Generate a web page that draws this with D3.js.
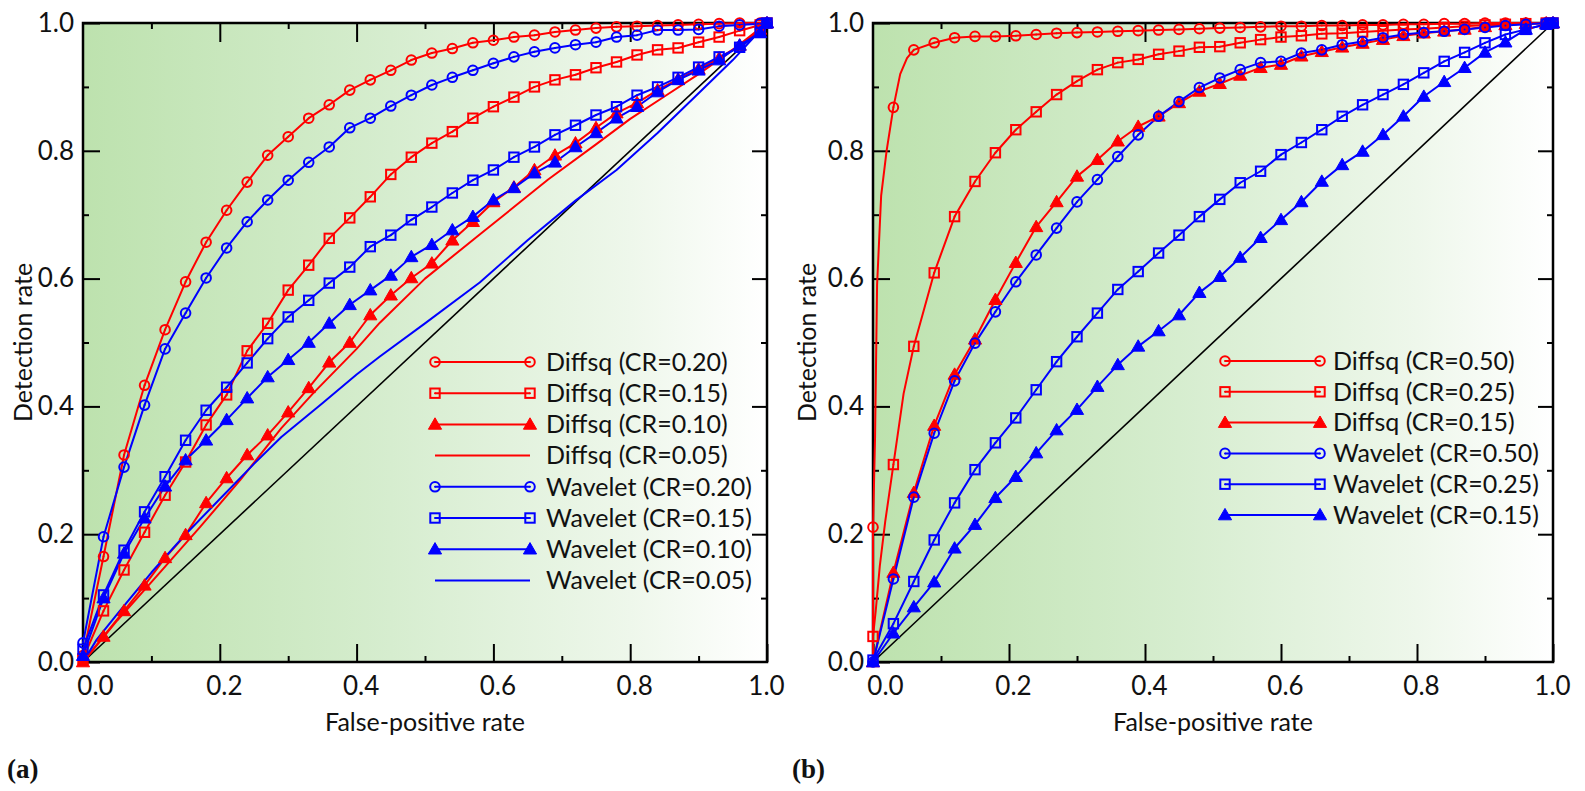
<!DOCTYPE html>
<html>
<head>
<meta charset="utf-8">
<script src="https://cdn.jsdelivr.net/npm/d3@7"></script>
<style>
body { margin: 0; background: #fff; }
text { font-family: Lato, "Open Sans", sans-serif; fill: #111; }
</style>
</head>
<body>
<svg id="chart" width="1585" height="791"></svg>
<script>

// false-positive rates where the markers sit (same for every marked curve)
var fprGrid = [0, 0.03, 0.06, 0.09, 0.12, 0.15, 0.18, 0.21, 0.24, 0.27, 0.30, 0.33, 0.36, 0.39, 0.42, 0.45, 0.48,
  0.51, 0.54, 0.57, 0.60, 0.63, 0.66, 0.69, 0.72, 0.75, 0.78, 0.81, 0.84, 0.87, 0.90, 0.93, 0.96, 0.99, 1.0];

// panel (a)
var tprDiffsqA20 = [0.01, 0.165, 0.324, 0.433, 0.52, 0.595, 0.657, 0.707, 0.751, 0.793, 0.822, 0.851, 0.872, 0.895, 0.911, 0.926, 0.942,
  0.953, 0.96, 0.969, 0.973, 0.978, 0.981, 0.986, 0.989, 0.992, 0.994, 0.995, 0.996, 0.997, 0.998, 0.999, 1.0, 1.0, 1.0];
var tprDiffsqA15 = [0.005, 0.08, 0.144, 0.203, 0.261, 0.313, 0.371, 0.418, 0.487, 0.53, 0.582, 0.621, 0.663, 0.695, 0.728, 0.763, 0.79,
  0.812, 0.83, 0.851, 0.869, 0.884, 0.9, 0.911, 0.919, 0.93, 0.939, 0.95, 0.958, 0.961, 0.97, 0.978, 0.988, 0.997, 1.0];
var tprDiffsqA10 = [0.0, 0.04, 0.08, 0.12, 0.163, 0.199, 0.249, 0.288, 0.324, 0.355, 0.391, 0.429, 0.469, 0.50, 0.543, 0.574, 0.601,
  0.624, 0.66, 0.689, 0.72, 0.743, 0.77, 0.793, 0.812, 0.836, 0.859, 0.875, 0.895, 0.912, 0.928, 0.945, 0.965, 0.99, 1.0];
var tprWaveletA20 = [0.03, 0.196, 0.305, 0.402, 0.49, 0.546, 0.601, 0.648, 0.689, 0.723, 0.754, 0.782, 0.806, 0.836, 0.851, 0.87, 0.887,
  0.903, 0.915, 0.926, 0.937, 0.947, 0.955, 0.961, 0.966, 0.97, 0.978, 0.981, 0.989, 0.989, 0.99, 0.995, 0.997, 0.999, 1.0];
var tprWaveletA15 = [0.02, 0.105, 0.175, 0.235, 0.29, 0.347, 0.394, 0.43, 0.468, 0.506, 0.54, 0.566, 0.593, 0.618, 0.65, 0.668, 0.692,
  0.712, 0.734, 0.754, 0.77, 0.79, 0.806, 0.825, 0.84, 0.856, 0.869, 0.887, 0.9, 0.915, 0.931, 0.947, 0.962, 0.985, 1.0];
var tprWaveletA10 = [0.01, 0.10, 0.17, 0.225, 0.275, 0.316, 0.347, 0.379, 0.413, 0.446, 0.473, 0.5, 0.53, 0.559, 0.582, 0.605, 0.634,
  0.653, 0.676, 0.697, 0.723, 0.742, 0.765, 0.782, 0.806, 0.828, 0.851, 0.869, 0.892, 0.911, 0.926, 0.942, 0.965, 0.985, 1.0];
// the CR=0.05 curves have no markers
var lineDiffsqA05 = [[0, 0], [0.05, 0.065], [0.1, 0.125], [0.171, 0.211], [0.23, 0.285], [0.29, 0.366], [0.336, 0.42],
  [0.4, 0.49], [0.434, 0.531], [0.5, 0.6], [0.58, 0.669], [0.68, 0.755], [0.75, 0.81], [0.8, 0.85],
  [0.85, 0.885], [0.9, 0.92], [0.95, 0.958], [1, 1]];
var lineWaveletA05 = [[0, 0], [0.02, 0.035], [0.05, 0.075], [0.1, 0.14], [0.15, 0.2], [0.2, 0.255], [0.25, 0.31], [0.29, 0.352],
  [0.35, 0.405], [0.4, 0.45], [0.434, 0.478], [0.5, 0.53], [0.58, 0.594], [0.65, 0.66], [0.72, 0.722], [0.78, 0.77],
  [0.84, 0.828], [0.9, 0.89], [0.95, 0.942], [1, 1]];

// panel (b)
var tprDiffsqB50 = [0.211, 0.868, 0.958, 0.969, 0.977, 0.979, 0.979, 0.98, 0.982, 0.984, 0.985, 0.986, 0.987, 0.988, 0.989, 0.99, 0.991,
  0.992, 0.993, 0.994, 0.995, 0.995, 0.996, 0.996, 0.997, 0.997, 0.998, 0.998, 0.999, 0.999, 1.0, 1.0, 1.0, 1.0, 1.0];
var stepsDiffsqB50 = [[0, 0], [0.003, 0.35], [0.006, 0.59], [0.012, 0.73], [0.02, 0.8], [0.04, 0.92], [0.05, 0.945]];
var tprDiffsqB25 = [0.04, 0.309, 0.494, 0.609, 0.697, 0.752, 0.797, 0.833, 0.861, 0.888, 0.909, 0.927, 0.938, 0.943, 0.951, 0.956, 0.962,
  0.963, 0.969, 0.974, 0.978, 0.98, 0.983, 0.984, 0.986, 0.988, 0.99, 0.991, 0.993, 0.995, 0.997, 0.998, 0.999, 1.0, 1.0];
var stepsDiffsqB25 = [[0, 0], [0.004, 0.08], [0.01, 0.15], [0.018, 0.22], [0.045, 0.42]];
var tprDiffsqB15 = [0.0, 0.14, 0.265, 0.37, 0.45, 0.505, 0.567, 0.625, 0.681, 0.72, 0.76, 0.786, 0.815, 0.838, 0.854, 0.875, 0.893,
  0.905, 0.918, 0.93, 0.935, 0.948, 0.955, 0.962, 0.968, 0.974, 0.98, 0.984, 0.987, 0.99, 0.994, 0.997, 0.999, 1.0, 1.0];
var tprWaveletB50 = [0.0, 0.13, 0.258, 0.358, 0.44, 0.499, 0.548, 0.595, 0.637, 0.679, 0.72, 0.755, 0.791, 0.825, 0.854, 0.877, 0.899,
  0.914, 0.927, 0.938, 0.94, 0.953, 0.958, 0.966, 0.971, 0.977, 0.982, 0.985, 0.987, 0.99, 0.993, 0.996, 0.998, 1.0, 1.0];
var tprWaveletB25 = [0.003, 0.06, 0.126, 0.191, 0.249, 0.301, 0.343, 0.382, 0.426, 0.47, 0.509, 0.546, 0.583, 0.611, 0.64, 0.668, 0.697,
  0.724, 0.75, 0.768, 0.794, 0.813, 0.833, 0.854, 0.872, 0.888, 0.904, 0.922, 0.94, 0.954, 0.969, 0.982, 0.99, 0.998, 1.0];
var tprWaveletB15 = [0.0, 0.045, 0.086, 0.125, 0.178, 0.215, 0.257, 0.29, 0.327, 0.363, 0.395, 0.431, 0.465, 0.494, 0.518, 0.543, 0.578,
  0.603, 0.633, 0.664, 0.692, 0.72, 0.752, 0.778, 0.799, 0.825, 0.854, 0.885, 0.908, 0.93, 0.954, 0.97, 0.99, 0.998, 1.0];

var diagonal = [[0, 0], [1, 1]];

var ticksMajor = [0, 0.2, 0.4, 0.6, 0.8, 1.0];
var ticksMinor = [0.1, 0.3, 0.5, 0.7, 0.9];
var tickLabels = ["0.0", "0.2", "0.4", "0.6", "0.8", "1.0"];

var legendLabelsA = ["Diffsq (CR=0.20)", "Diffsq (CR=0.15)", "Diffsq (CR=0.10)", "Diffsq (CR=0.05)",
  "Wavelet (CR=0.20)", "Wavelet (CR=0.15)", "Wavelet (CR=0.10)", "Wavelet (CR=0.05)"];
var legendLabelsB = ["Diffsq (CR=0.50)", "Diffsq (CR=0.25)", "Diffsq (CR=0.15)",
  "Wavelet (CR=0.50)", "Wavelet (CR=0.25)", "Wavelet (CR=0.15)"];

var RED = "#ff0000", BLUE = "#0000ff";

var svg = d3.select("#chart");
var defs = svg.append("defs");

function markedPoints(tpr, steps){
  var pts = fprGrid.map(function(x, i){ return [x, tpr[i]]; });
  if (steps) pts = pts.concat(steps);
  pts.sort(function(a, b){ return a[0] - b[0] || a[1] - b[1]; });
  return pts;
}

function drawMarker(g, type, color, cx, cy){
  if (type == "circle"){
    g.append("circle").attr("cx", cx).attr("cy", cy).attr("r", 4.8)
      .attr("fill", "none").attr("stroke", color).attr("stroke-width", 2);
    g.append("circle").attr("cx", cx).attr("cy", cy).attr("r", 1).attr("fill", color);
  }
  else if (type == "square"){
    g.append("rect").attr("x", cx - 4.7).attr("y", cy - 4.7).attr("width", 9.4).attr("height", 9.4)
      .attr("fill", "none").attr("stroke", color).attr("stroke-width", 2);
    g.append("circle").attr("cx", cx).attr("cy", cy).attr("r", 1).attr("fill", color);
  }
  else if (type == "triangle"){
    g.append("path")
      .attr("d", d3.symbol(d3.symbolTriangle).size(75)())
      .attr("transform", "translate(" + cx + "," + (cy + 1) + ")")
      .attr("fill", color).attr("stroke", color).attr("stroke-width", 1);
  }
}

function styleAxis(sel, size){
  sel.select(".domain").remove();
  sel.attr("font-size", size).attr("font-family", null);
  sel.selectAll("line").attr("stroke-width", 2);
}

function drawPanel(p){
  var x = d3.scaleLinear().domain([0, 1]).range([p.left, p.left + p.width]);
  var y = d3.scaleLinear().domain([0, 1]).range([p.top + p.height, p.top]);
  var bottom = p.top + p.height, right = p.left + p.width;

  var grad = defs.append("linearGradient").attr("id", p.id + "_bg")
    .attr("x1", "0").attr("x2", "1").attr("y1", "0").attr("y2", "0");
  grad.append("stop").attr("offset", "0").attr("stop-color", "#bde2ae");
  grad.append("stop").attr("offset", "0.45").attr("stop-color", "#d6edcf");
  grad.append("stop").attr("offset", "0.8").attr("stop-color", "#eef7eb");
  grad.append("stop").attr("offset", "1").attr("stop-color", "#ffffff");

  var g = svg.append("g");
  g.append("rect").attr("x", p.left).attr("y", p.top).attr("width", p.width).attr("height", p.height)
    .attr("fill", "url(#" + p.id + "_bg)");

  var line = d3.line().x(function(d){ return x(d[0]); }).y(function(d){ return y(d[1]); });

  g.append("path").datum(diagonal).attr("d", line)
    .attr("fill", "none").attr("stroke", "#000").attr("stroke-width", 1.6);

  // frame and ticks
  g.append("rect").attr("x", p.left).attr("y", p.top).attr("width", p.width).attr("height", p.height)
    .attr("fill", "none").attr("stroke", "#000").attr("stroke-width", 2.5);

  var fmt = function(d){ return tickLabels[ticksMajor.indexOf(d)]; };

  var xb = g.append("g").attr("transform", "translate(0," + bottom + ")")
    .call(d3.axisBottom(x).tickValues(ticksMajor).tickSize(-18).tickPadding(15).tickFormat(fmt));
  styleAxis(xb, 26);
  xb.selectAll("text").attr("dx", function(d, i){ return i == 0 ? 12 : (i == 5 ? -1 : 4); });
  styleAxis(g.append("g").attr("transform", "translate(0," + bottom + ")")
    .call(d3.axisBottom(x).tickValues(ticksMinor).tickSize(-6).tickFormat("")), 26);

  styleAxis(g.append("g").attr("transform", "translate(0," + p.top + ")")
    .call(d3.axisTop(x).tickValues(ticksMajor.slice(1, 5)).tickSize(-19).tickFormat("")), 26);
  styleAxis(g.append("g").attr("transform", "translate(0," + p.top + ")")
    .call(d3.axisTop(x).tickValues(ticksMinor).tickSize(-6).tickFormat("")), 26);

  var yl = g.append("g").attr("transform", "translate(" + p.left + ",0)")
    .call(d3.axisLeft(y).tickValues(ticksMajor).tickSize(-17).tickPadding(9).tickFormat(fmt));
  styleAxis(yl, 26);
  styleAxis(g.append("g").attr("transform", "translate(" + p.left + ",0)")
    .call(d3.axisLeft(y).tickValues(ticksMinor).tickSize(-6).tickFormat("")), 26);

  styleAxis(g.append("g").attr("transform", "translate(" + right + ",0)")
    .call(d3.axisRight(y).tickValues(ticksMajor.slice(1, 5)).tickSize(-15).tickFormat("")), 26);
  styleAxis(g.append("g").attr("transform", "translate(" + right + ",0)")
    .call(d3.axisRight(y).tickValues(ticksMinor).tickSize(-6).tickFormat("")), 26);

  // curves
  for (var i = 0; i < p.series.length; i++){
    var s = p.series[i];
    var pts = s.tpr ? markedPoints(s.tpr, s.steps) : s.line;
    g.append("path").datum(pts).attr("d", line)
      .attr("fill", "none").attr("stroke", s.color).attr("stroke-width", 2)
      .attr("stroke-linejoin", "round");
  }
  for (var i = 0; i < p.series.length; i++){
    var s = p.series[i];
    if (!s.tpr) continue;
    var mg = g.append("g");
    for (var k = 0; k < fprGrid.length; k++){
      drawMarker(mg, s.marker, s.color, x(fprGrid[k]), y(s.tpr[k]));
    }
  }

  // legend
  var lg = g.append("g");
  for (var i = 0; i < p.series.length; i++){
    var s = p.series[i];
    var ly = p.legendY + i * p.legendStep;
    lg.append("line").attr("x1", p.legendX).attr("x2", p.legendX + 95).attr("y1", ly).attr("y2", ly)
      .attr("stroke", s.color).attr("stroke-width", 2);
    if (s.marker){
      drawMarker(lg, s.marker, s.color, p.legendX, ly);
      drawMarker(lg, s.marker, s.color, p.legendX + 95, ly);
    }
    lg.append("text").attr("x", p.legendX + p.legendGap).attr("y", ly).attr("dy", "0.35em")
      .attr("font-size", 25).text(s.label);
  }

  // titles
  g.append("text").attr("x", (p.left + right) / 2).attr("y", 731)
    .attr("text-anchor", "middle").attr("font-size", 25).text("False-positive rate");
  g.append("text").attr("transform", "translate(" + p.titleX + "," + ((p.top + bottom) / 2) + ") rotate(-90)")
    .attr("text-anchor", "middle").attr("dy", "0.35em").attr("font-size", 25).text("Detection rate");
  g.append("text").attr("x", p.tagX).attr("y", 778)
    .style("font-family", "'Liberation Serif', serif").attr("font-weight", "bold").attr("font-size", 27)
    .text(p.tag);
}

drawPanel({
  id: "a", left: 83, top: 23, width: 684, height: 639,
  legendX: 435, legendY: 362, legendStep: 31.2, legendGap: 111,
  titleX: 23, tagX: 7, tag: "(a)",
  series: [
    {label: legendLabelsA[0], color: RED, marker: "circle", tpr: tprDiffsqA20},
    {label: legendLabelsA[1], color: RED, marker: "square", tpr: tprDiffsqA15},
    {label: legendLabelsA[2], color: RED, marker: "triangle", tpr: tprDiffsqA10},
    {label: legendLabelsA[3], color: RED, marker: null, line: lineDiffsqA05},
    {label: legendLabelsA[4], color: BLUE, marker: "circle", tpr: tprWaveletA20},
    {label: legendLabelsA[5], color: BLUE, marker: "square", tpr: tprWaveletA15},
    {label: legendLabelsA[6], color: BLUE, marker: "triangle", tpr: tprWaveletA10},
    {label: legendLabelsA[7], color: BLUE, marker: null, line: lineWaveletA05}
  ]
});

drawPanel({
  id: "b", left: 873, top: 23, width: 680, height: 639,
  legendX: 1225, legendY: 361, legendStep: 30.8, legendGap: 108,
  titleX: 807, tagX: 792, tag: "(b)",
  series: [
    {label: legendLabelsB[0], color: RED, marker: "circle", tpr: tprDiffsqB50, steps: stepsDiffsqB50},
    {label: legendLabelsB[1], color: RED, marker: "square", tpr: tprDiffsqB25, steps: stepsDiffsqB25},
    {label: legendLabelsB[2], color: RED, marker: "triangle", tpr: tprDiffsqB15},
    {label: legendLabelsB[3], color: BLUE, marker: "circle", tpr: tprWaveletB50},
    {label: legendLabelsB[4], color: BLUE, marker: "square", tpr: tprWaveletB25},
    {label: legendLabelsB[5], color: BLUE, marker: "triangle", tpr: tprWaveletB15}
  ]
});

</script>
</body>
</html>
